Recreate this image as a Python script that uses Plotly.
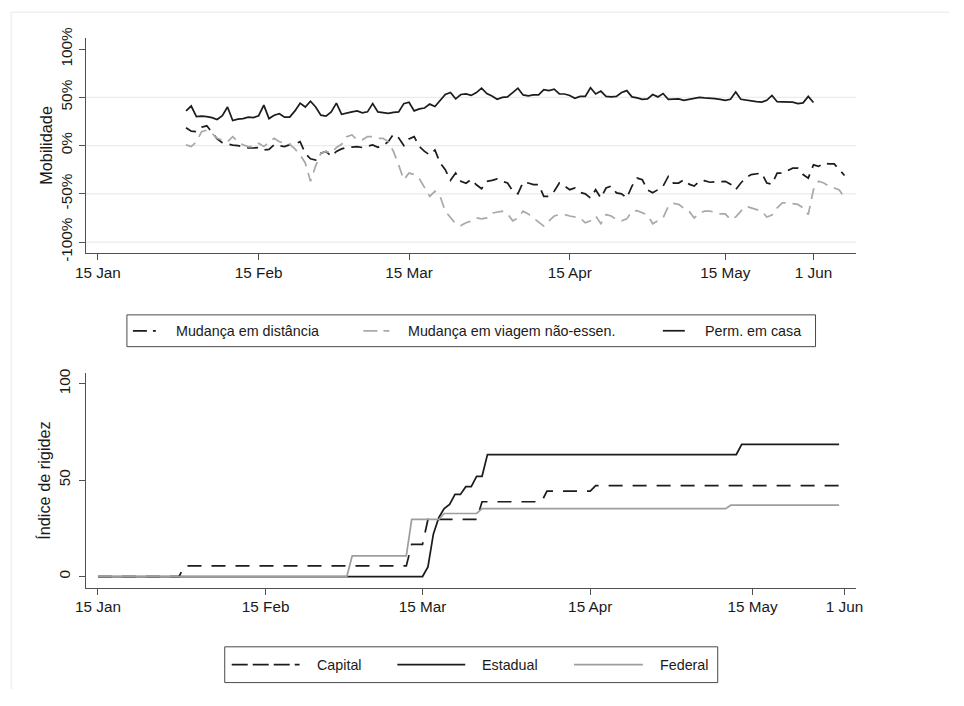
import plotly.graph_objects as go
import pandas as pd

# Page is 964x706 with the browser's default 8px body margin around the figure
PAGE_MARGIN = 8
W, H = 964 - 2 * PAGE_MARGIN, 706 - 2 * PAGE_MARGIN
# observed photo transform (photo = offset + scale * page), compensated below
SX, OX = 0.983, 9.0
SY, OY = 0.977, 8.5
FS = 1 / SX  # font/stroke compensation

# ---------------- Top panel: mobility (% change), daily ----------------
mob_start = "2020-02-01"

dist_change = [
    # Feb 1-29
    18.6, 15, 14.5, 19, 20.5, 14, 7, 3, 1.5, 0.5, 0, -1, -2.5, -2.5, -2, -4.5, -4, 1, 0, -1,
    1, 1.5, 4, -8, -13.7, -15, -8, -6, -11,
    # Mar 1-31
    -6, -3.4, -2, -1.5, -1, -2, -0.5, 0.7, -1.7, 0, 4, 11.7, 8, 0, 7, 9.3, -1, -6, -9.6, -4.5,
    -18, -25, -36, -28.5, -37, -39, -35, -40.6, -44.7, -37, -36,
    # Apr 1-30
    -34.5, -37, -38.8, -47, -50, -38, -38.8, -40.5, -40.5, -52.6, -52.6, -47.4, -38.8, -42, -45.7,
    -44, -48.5, -50, -54.3, -45.7, -54.3, -44, -42, -49, -50, -54.3, -42, -33.7, -35.4, -46,
    # May 1-31
    -49, -45.7, -42, -32, -38.8, -38.8, -35.4, -40, -42, -37, -36.4, -38, -37.5, -37, -37, -40,
    -45.7, -38.8, -33, -30, -29.6, -28.5, -38.8, -40, -28.5, -28.5, -26, -23.4, -23.4, -30, -33.7,
    # Jun 1-7
    -20, -21.6, -18, -19, -19, -25, -31,
]

travel_change = [
    # Feb 1-29
    0.7, -1, 4, 14.4, 16, 12.7, 7.6, 6, 4, 9.3, 4, 0.7, -1, -1, 2.4, -1, 3, 7.6, 4, 2.4,
    1.4, -3.4, -9.6, -18, -37, -21, -8, -6, -8,
    # Mar 1-31
    -2, 1.4, 9.3, 11, 6, 6, 9.3, 9.3, 7.6, 7.6, 4, -6, -20, -35.4, -28.5, -30, -34.4, -44, -52.6,
    -47.4, -52.6, -68, -75, -81, -82.8, -80, -78.3, -75, -76, -75, -70,
    # Apr 1-30
    -68.7, -68, -70.8, -78, -75, -68, -70.8, -75, -80, -83.5, -78, -73, -71.5, -71.5, -73, -74,
    -75, -80, -78, -73, -81, -71.5, -73, -76.6, -78, -76, -68, -67.4, -69.8, -72,
    # May 1-31
    -81, -78, -75, -63, -60, -61, -65, -68, -75, -70, -68, -68, -69, -70.8, -70.8, -76.6, -74,
    -68, -63, -64.6, -66, -68, -74, -72, -64.6, -59.5, -59.5, -60, -61, -64.6, -71.5,
    # Jun 1-7
    -45.7, -37, -38.8, -42, -44, -46, -54.3,
]

stay_home = [
    # Feb 1-29
    36, 41, 30, 30.5, 30, 29, 27, 31, 40, 26, 27.5, 28, 29.5, 29, 31, 42, 28, 31.5, 33, 29.5,
    29.5, 36, 44, 40, 46, 40, 31.5, 30.5, 35,
    # Mar 1-31
    44, 32.5, 34, 35, 36, 34, 35, 43.5, 35, 34, 33.5, 34.5, 35, 43.5, 45, 36, 38, 39, 43, 40.5,
    47, 53, 55, 48.5, 53, 53.5, 52, 55, 59.5, 54, 51.5,
    # Apr 1-30
    48, 50, 50.5, 55, 59.5, 52.5, 51.5, 52.5, 52.5, 58, 57, 58.5, 53.5, 53.5, 52, 49, 51, 51,
    60, 53.5, 56.5, 51, 50.5, 51, 55, 57, 50.5, 49.5, 48, 48.5,
    # May 1-31
    53, 50.5, 54, 48, 48, 48.5, 47, 48, 49.5, 50, 49.5, 49.5, 48.8, 48, 47, 48, 55.5, 48, 47,
    46, 45.5, 45, 47, 52, 45.5, 45.4, 45, 45, 43.5, 44.3, 51,
    # Jun 1
    44.7,
]

# ---------------- Bottom panel: stringency index (change points) ----------------
capital_dates = ["2020-01-15", "2020-01-30", "2020-01-31", "2020-03-12", "2020-03-13",
                 "2020-03-15", "2020-03-16", "2020-03-25", "2020-03-26", "2020-04-06",
                 "2020-04-07", "2020-04-15", "2020-04-16", "2020-05-31"]
capital_vals = [0, 0, 5.5, 5.5, 16.7, 16.7, 29.6, 29.6, 38.8, 38.8, 44.3, 44.3, 47.2, 47.2]

estadual_dates = ["2020-01-15", "2020-03-15", "2020-03-16", "2020-03-17", "2020-03-18",
                  "2020-03-19", "2020-03-20", "2020-03-21", "2020-03-22", "2020-03-23",
                  "2020-03-24", "2020-03-25", "2020-03-26", "2020-03-27", "2020-05-12",
                  "2020-05-13", "2020-05-31"]
estadual_vals = [0, 0, 5, 22, 30.5, 35.3, 37.4, 42.6, 42.6, 46.6, 46.6, 52, 52, 63.3, 63.3,
                 68.6, 68.6]

federal_dates = ["2020-01-15", "2020-03-01", "2020-03-02", "2020-03-12", "2020-03-13",
                 "2020-03-18", "2020-03-19", "2020-03-25", "2020-03-26", "2020-05-10",
                 "2020-05-11", "2020-05-31"]
federal_vals = [0, 0, 10.7, 10.7, 29.6, 29.6, 32.7, 32.7, 35.2, 35.2, 37, 37]

# ---------------- Axes ticks ----------------
x_tickvals = ["2020-01-15", "2020-02-15", "2020-03-15", "2020-04-15", "2020-05-15", "2020-06-01"]
x_ticktext = ["15 Jan", "15 Feb", "15 Mar", "15 Apr", "15 May", "1 Jun"]
y1_tickvals = [-100, -50, 0, 50, 100]
y1_ticktext = ["-100%", "-50%", "0%", "50%", "100%"]
y1_grid = [-100, -50, 0, 50]
y2_tickvals = [0, 50, 100]
y2_ticktext = ["0", "50", "100"]

top_legend = ["Mudança em distância", "Mudança em viagem não-essen.", "Perm. em casa"]
bot_legend = ["Capital", "Estadual", "Federal"]

BLACK = "#1c1c1c"
GRAY = "#a9a9a9"
FGRAY = "#9e9e9e"
AXIS = "#505050"
FONT = "Liberation Sans, Arial, Helvetica, sans-serif"
LW = 1.7 * FS

mob_dates_long = pd.date_range(mob_start, periods=len(dist_change), freq="D")
mob_dates_home = pd.date_range(mob_start, periods=len(stay_home), freq="D")


def px(x):
    # target pixel -> paper fraction
    page = (x - OX) / SX
    return (page - PAGE_MARGIN) / W


def py(y):
    page = (y - OY) / SY
    return 1 - (page - PAGE_MARGIN) / H


fig = go.Figure()

fig.add_trace(go.Scatter(x=mob_dates_long, y=dist_change, mode="lines", name=top_legend[0],
                         line=dict(color=BLACK, width=LW, dash="11px,7px"),
                         xaxis="x", yaxis="y", showlegend=False))
fig.add_trace(go.Scatter(x=mob_dates_long, y=travel_change, mode="lines", name=top_legend[1],
                         line=dict(color=GRAY, width=LW, dash="11px,7px"),
                         xaxis="x", yaxis="y", showlegend=False))
fig.add_trace(go.Scatter(x=mob_dates_home, y=stay_home, mode="lines", name=top_legend[2],
                         line=dict(color=BLACK, width=LW),
                         xaxis="x", yaxis="y", showlegend=False))

fig.add_trace(go.Scatter(x=capital_dates, y=capital_vals, mode="lines", name=bot_legend[0],
                         line=dict(color=BLACK, width=LW, dash="14px,10px"),
                         xaxis="x2", yaxis="y2", showlegend=False))
fig.add_trace(go.Scatter(x=estadual_dates, y=estadual_vals, mode="lines", name=bot_legend[1],
                         line=dict(color=BLACK, width=LW),
                         xaxis="x2", yaxis="y2", showlegend=False))
fig.add_trace(go.Scatter(x=federal_dates, y=federal_vals, mode="lines", name=bot_legend[2],
                         line=dict(color=FGRAY, width=LW),
                         xaxis="x2", yaxis="y2", showlegend=False))

TICK = 15.3
common_x = dict(tickvals=x_tickvals, ticktext=x_ticktext, ticks="outside", ticklen=6,
                tickwidth=1.2, tickcolor=AXIS, showline=True, linecolor=AXIS, linewidth=1.3,
                showgrid=False, zeroline=False, tickfont=dict(size=TICK, color="#1a1a1a"),
                ticklabelstandoff=-1)
common_y = dict(ticks="outside", ticklen=6, tickwidth=1.2, tickcolor=AXIS, showline=True,
                linecolor=AXIS, linewidth=1.3, showgrid=False, zeroline=False, tickangle=-90,
                tickfont=dict(size=TICK, color="#1a1a1a"))

fig.update_layout(
    width=W, height=H, margin=dict(l=0, r=0, t=0, b=0),
    paper_bgcolor="white", plot_bgcolor="white",
    font=dict(family=FONT, color="#1a1a1a"),
    xaxis=dict(domain=[px(84), px(856)], anchor="y",
               range=["2020-01-12 17:00", "2020-06-09 07:00"], **common_x),
    yaxis=dict(domain=[py(252), py(35)], anchor="x", range=[-111.6, 112],
               tickvals=y1_tickvals, ticktext=y1_ticktext, ticklabelstandoff=1,
               title=dict(text="Mobilidade", font=dict(size=16.3), standoff=1), **common_y),
    xaxis2=dict(domain=[px(84), px(856)], anchor="y2",
                range=["2020-01-12 19:00", "2020-06-03 05:00"], **common_x),
    yaxis2=dict(domain=[py(588.7), py(372.7)], anchor="x2", range=[-5.9, 105.5],
                tickvals=y2_tickvals, ticktext=y2_ticktext, ticklabelstandoff=3,
                title=dict(text="Índice de rigidez", font=dict(size=16.3), standoff=1), **common_y),
    showlegend=False,
)

shapes = []
# outer faint frame (top and left edges)
shapes.append(dict(type="line", xref="paper", yref="paper", x0=px(9), x1=1, y0=py(9.5), y1=py(9.5),
                   line=dict(color="#e2ebee", width=1)))
shapes.append(dict(type="line", xref="paper", yref="paper", x0=px(9), x1=px(9), y0=py(9.5), y1=0,
                   line=dict(color="#e2ebee", width=1)))
# gridlines in top panel
for g in y1_grid:
    shapes.append(dict(type="line", xref="x domain", yref="y", x0=0, x1=1, y0=g, y1=g,
                       line=dict(color="#e5edef", width=1.2), layer="below"))

annotations = []


def legend_box(x0, x1, y0, y1, items):
    shapes.append(dict(type="rect", xref="paper", yref="paper", x0=px(x0), x1=px(x1),
                       y0=py(y1), y1=py(y0), line=dict(color="#4a4a4a", width=1),
                       fillcolor="white"))
    yc = (y0 + y1) / 2
    for (sx0, sx1, tx, label, color, dash) in items:
        shapes.append(dict(type="line", xref="paper", yref="paper", x0=px(sx0), x1=px(sx1),
                           y0=py(yc), y1=py(yc), line=dict(color=color, width=LW, dash=dash)))
        annotations.append(dict(xref="paper", yref="paper", x=px(tx), y=py(yc), text=label,
                                showarrow=False, xanchor="left", yanchor="middle",
                                font=dict(size=14.3, color="#1a1a1a")))


legend_box(125, 815, 314, 346, [
    (131, 154, 172, top_legend[0], BLACK, "14px,6px"),
    (362, 388, 405, top_legend[1], GRAY, "14px,6px"),
    (662, 684, 702, top_legend[2], BLACK, "solid"),
])
legend_box(223, 717, 648, 684, [
    (230, 298, 313, bot_legend[0], BLACK, "16px,5px"),
    (396, 464, 479, bot_legend[1], BLACK, "solid"),
    (573, 642, 657, bot_legend[2], FGRAY, "solid"),
])

fig.update_layout(shapes=shapes, annotations=annotations)

fig.write_html("out.html", include_plotlyjs=True, config={"displayModeBar": False})
